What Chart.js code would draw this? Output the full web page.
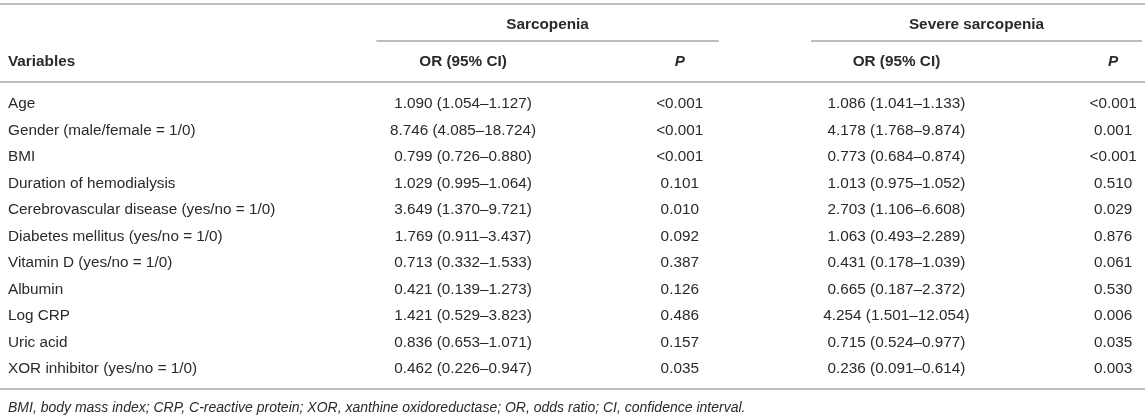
<!DOCTYPE html>
<html>
<head>
<meta charset="utf-8">
<script src="https://cdn.jsdelivr.net/npm/chart.js@4.4.1/dist/chart.umd.min.js"></script>
<style>
  html, body { margin: 0; padding: 0; background: #ffffff; }
  #c { display: block; }
</style>
</head>
<body>
<canvas id="c" width="1145" height="419"></canvas>
<script>
// ---------- DATA ----------
const variables = [
  'Age',
  'Gender (male/female = 1/0)',
  'BMI',
  'Duration of hemodialysis',
  'Cerebrovascular disease (yes/no = 1/0)',
  'Diabetes mellitus (yes/no = 1/0)',
  'Vitamin D (yes/no = 1/0)',
  'Albumin',
  'Log CRP',
  'Uric acid',
  'XOR inhibitor (yes/no = 1/0)'
];
const orSarcopenia = [
  '1.090 (1.054–1.127)', '8.746 (4.085–18.724)', '0.799 (0.726–0.880)', '1.029 (0.995–1.064)',
  '3.649 (1.370–9.721)', '1.769 (0.911–3.437)', '0.713 (0.332–1.533)', '0.421 (0.139–1.273)',
  '1.421 (0.529–3.823)', '0.836 (0.653–1.071)', '0.462 (0.226–0.947)'
];
const pSarcopenia = [
  '<0.001', '<0.001', '<0.001', '0.101', '0.010', '0.092', '0.387', '0.126', '0.486', '0.157', '0.035'
];
const orSevere = [
  '1.086 (1.041–1.133)', '4.178 (1.768–9.874)', '0.773 (0.684–0.874)', '1.013 (0.975–1.052)',
  '2.703 (1.106–6.608)', '1.063 (0.493–2.289)', '0.431 (0.178–1.039)', '0.665 (0.187–2.372)',
  '4.254 (1.501–12.054)', '0.715 (0.524–0.977)', '0.236 (0.091–0.614)'
];
const pSevere = [
  '<0.001', '0.001', '<0.001', '0.510', '0.029', '0.876', '0.061', '0.530', '0.006', '0.035', '0.003'
];
const stubHeader = 'Variables';
const groupHeaders = ['Sarcopenia', 'Severe sarcopenia'];
const columnHeaders = ['OR (95% CI)', 'P', 'OR (95% CI)', 'P'];
const footnote = 'BMI, body mass index; CRP, C-reactive protein; XOR, xanthine oxidoreductase; OR, odds ratio; CI, confidence interval.';

// ---------- BUILD DATASETS ----------
const columns = [orSarcopenia, pSarcopenia, orSevere, pSevere];
const datasets = columns.map((col, ci) => ({
  label: columnHeaders[ci],
  cellText: col,
  data: col.map((_, ri) => ({ x: ci, y: ri })),
  pointRadius: 0,
  pointHoverRadius: 0,
  showLine: false
}));

const FONT = '"Liberation Sans", Arial, Helvetica, sans-serif';
const TEXT = '#2a2a2a';

const tablePlugin = {
  id: 'tableText',
  afterDatasetsDraw(chart, args, o) {
    const ctx = chart.ctx;
    const xs = chart.scales.x, ys = chart.scales.y;
    ctx.save();
    // cells
    ctx.font = o.size + 'px ' + FONT;
    ctx.fillStyle = TEXT;
    ctx.textAlign = 'center';
    ctx.textBaseline = 'middle';
    chart.data.datasets.forEach((ds, di) => {
      chart.getDatasetMeta(di).data.forEach((el, i) => {
        ctx.fillText(ds.cellText[i], el.x, el.y);
      });
    });
    // column headers
    const yh = ys.getPixelForValue(o.rows.colHeader);
    columnHeaders.forEach((h, ci) => {
      ctx.font = (h === 'P' ? 'italic bold ' : 'bold ') + o.size + 'px ' + FONT;
      ctx.fillText(h, xs.getPixelForValue(ci), yh);
    });
    // stub header
    ctx.font = 'bold ' + o.size + 'px ' + FONT;
    ctx.textAlign = 'left';
    ctx.fillText(stubHeader, ys.left, yh);
    // group headers + underlines
    ctx.textAlign = 'center';
    const yg = ys.getPixelForValue(o.rows.group);
    const yu = ys.getPixelForValue(o.rows.groupRule);
    ctx.strokeStyle = o.ruleColor;
    ctx.lineWidth = o.ruleWidth;
    o.groupSpans.forEach((span, gi) => {
      const a = xs.getPixelForValue(span[0]), b = xs.getPixelForValue(span[1]);
      ctx.fillText(groupHeaders[gi], (a + b) / 2, yg);
      ctx.beginPath(); ctx.moveTo(a, yu); ctx.lineTo(b, yu); ctx.stroke();
    });
    // full-width rules
    [o.rows.topRule, o.rows.midRule, o.rows.bottomRule].forEach(v => {
      const yy = ys.getPixelForValue(v);
      ctx.beginPath(); ctx.moveTo(0, yy); ctx.lineTo(chart.width, yy); ctx.stroke();
    });
    // footnote
    ctx.font = 'italic ' + o.noteSize + 'px ' + FONT;
    ctx.textAlign = 'left';
    ctx.fillText(footnote, ys.left, ys.getPixelForValue(o.rows.footnote));
    ctx.restore();
  }
};

new Chart(document.getElementById('c'), {
  type: 'scatter',
  data: { datasets },
  plugins: [tablePlugin],
  options: {
    responsive: false,
    animation: false,
    events: [],
    layout: { padding: { left: 8, right: 0, top: 0, bottom: 0 } },
    plugins: {
      legend: { display: false },
      tooltip: { enabled: false },
      tableText: {
        size: 15.3,
        noteSize: 14,
        ruleColor: '#a8a8a8',
        ruleWidth: 1.6,
        groupSpans: [[-0.40, 1.18], [1.606, 3.133]],
        rows: {
          topRule: -3.774, group: -3.0, groupRule: -2.377, colHeader: -1.585,
          midRule: -0.83, bottomRule: 10.755, footnote: 11.472
        }
      }
    },
    scales: {
      x: {
        type: 'linear',
        display: false,
        min: -0.531,
        max: 3.147
      },
      y: {
        type: 'linear',
        reverse: true,
        min: -3.925,
        max: 11.887,
        grid: { display: false },
        border: { display: false },
        afterBuildTicks: (scale) => { scale.ticks = variables.map((_, i) => ({ value: i })); },
        afterFit: (scale) => { scale.width = 340; scale.paddingTop = 0; scale.paddingBottom = 0; },
        ticks: {
          crossAlign: 'far',
          padding: 0,
          color: TEXT,
          font: { family: FONT, size: 15.3 },
          callback: (v) => variables[v]
        }
      }
    }
  }
});
</script>
</body>
</html>
